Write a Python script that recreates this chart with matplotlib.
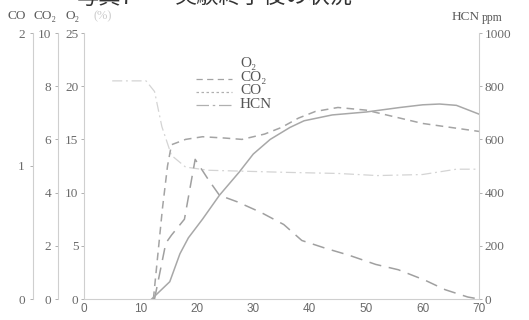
import matplotlib
matplotlib.use("Agg")
import matplotlib.pyplot as plt
from matplotlib.lines import Line2D

# Elapsed time (min) and measured gas concentrations
time_o2 = [5.0, 11.0, 12.5, 13.8, 15.5, 18.0, 22.0, 36.0, 45.0, 52.0, 60.0, 66.0, 70.0]
o2_pct = [20.5, 20.5, 19.5, 16.2, 13.5, 12.4, 12.1, 11.9, 11.8, 11.6, 11.7, 12.2, 12.2]

time_co2 = [12.3, 13.9, 14.8, 15.5, 18.0, 21.0, 25.0, 28.0, 32.0, 35.0, 38.0,
            41.0, 45.0, 50.0, 55.0, 60.0, 65.0, 70.0]
co2_pct = [0.0, 3.4, 5.0, 5.8, 6.0, 6.1, 6.05, 6.0, 6.2, 6.45, 6.8,
           7.05, 7.2, 7.1, 6.85, 6.6, 6.45, 6.3]

time_co = [12.5, 14.5, 15.5, 17.8, 19.7, 22.0, 24.0, 27.2, 31.4, 35.4, 38.6,
           42.9, 46.9, 51.7, 55.7, 60.5, 64.0, 68.0, 70.0]
co_pct = [0.0, 0.42, 0.48, 0.6, 1.05, 0.9, 0.78, 0.73, 0.65, 0.56, 0.44,
          0.38, 0.33, 0.26, 0.22, 0.14, 0.07, 0.015, 0.0]

time_hcn = [12.0, 15.2, 17.0, 18.5, 21.0, 24.0, 27.5, 30.0, 33.0, 36.5, 39.0,
            44.0, 50.0, 56.0, 60.0, 63.0, 66.0, 70.0]
hcn_ppm = [0, 65, 170, 230, 300, 390, 477, 545, 600, 645, 670,
           692, 703, 720, 730, 733, 728, 695]

x_ticks = [0, 10, 20, 30, 40, 50, 60, 70]
co_ticks = [0, 1, 2]
co2_ticks = [0, 2, 4, 6, 8, 10]
o2_ticks = [0, 5, 10, 15, 20, 25]
hcn_ticks = [0, 200, 400, 600, 800, 1000]

W_PX, H_PX = 529, 320
SERIF = ["Liberation Serif", "DejaVu Serif"]
SANS = ["Liberation Sans", "DejaVu Sans"]
TICK_C = "#6a6a6a"
SPINE_C = "#cfcfcf"
LINE_C = "#a4a4a4"

fig = plt.figure(figsize=(W_PX / 100, H_PX / 100), dpi=100)
fig.patch.set_facecolor("white")

left, right, bottom, top = 84, 479, 299, 33
ax = fig.add_axes([left / W_PX, 1 - bottom / H_PX,
                   (right - left) / W_PX, (bottom - top) / H_PX])
ax.set_xlim(0, 70)
ax.set_ylim(0, 25)
ax.patch.set_alpha(0)

ax_co2 = ax.twinx()
ax_co = ax.twinx()
ax_hcn = ax.twinx()
ax_co2.set_ylim(0, 10)
ax_co.set_ylim(0, 2)
ax_hcn.set_ylim(0, 1000)

span = right - left
for a, ticks, pos, pad in [(ax, o2_ticks, 0.0, 1.5),
                           (ax_co2, co2_ticks, (58 - left) / span, 2.5),
                           (ax_co, co_ticks, (33 - left) / span, 3.5)]:
    for s in ["top", "right", "bottom"]:
        a.spines[s].set_visible(False)
    a.spines["left"].set_visible(True)
    a.spines["left"].set_position(("axes", pos))
    a.spines["left"].set_color(SPINE_C)
    a.spines["left"].set_linewidth(0.8)
    a.yaxis.set_ticks_position("left")
    a.yaxis.set_label_position("left")
    a.set_yticks(ticks)
    a.tick_params(axis="y", direction="out", length=2.5, width=0.7,
                  color="#b0b0b0", pad=pad, labelsize=9.5, labelcolor=TICK_C)
    for lab in a.get_yticklabels():
        lab.set_fontfamily(SERIF)

for s in ["top", "left", "bottom"]:
    ax_hcn.spines[s].set_visible(False)
ax_hcn.spines["right"].set_color(SPINE_C)
ax_hcn.spines["right"].set_linewidth(0.8)
ax_hcn.set_yticks(hcn_ticks)
ax_hcn.tick_params(axis="y", direction="out", length=2.5, width=0.7,
                   color="#b0b0b0", pad=1.5, labelsize=9.5, labelcolor=TICK_C)
for lab in ax_hcn.get_yticklabels():
    lab.set_fontfamily(SERIF)

ax.spines["bottom"].set_visible(True)
ax.spines["bottom"].set_color(SPINE_C)
ax.spines["bottom"].set_linewidth(0.8)
ax.set_xticks(x_ticks)
ax.tick_params(axis="x", length=0, pad=3, labelsize=8.5, labelcolor=TICK_C)
for lab in ax.get_xticklabels():
    lab.set_fontfamily(SANS)

# Gas concentration curves
ax.plot(time_o2, o2_pct, color="#d4d4d4", lw=0.9, linestyle=(0, (8, 3, 1.5, 3)))
ax_co2.plot(time_co2, co2_pct, color=LINE_C, lw=1.1, linestyle=(0, (5, 3.5)))
ax_co.plot(time_co, co_pct, color="#a0a0a0", lw=1.1, linestyle=(0, (8, 5)))
ax_hcn.plot(time_hcn, hcn_ppm, color="#a8a8a8", lw=1.1)

# Legend
def fx(px):
    return px / W_PX

def fy(py):
    return 1 - py / H_PX

legend_rows = [("O₂", 64, None, "#d6d6d6"),
               ("CO₂", 78, (0, (5, 3.5)), LINE_C),
               ("CO", 91, (0, (2, 2)), "#b0b0b0"),
               ("HCN", 104, (0, (10, 3, 2, 3)), "#b0b0b0")]
for label, ypx, ls, col in legend_rows:
    fig.text(fx(240), fy(ypx), label, family=SERIF, fontsize=11,
             color="#555555", va="center", ha="left")
    if ls is not None:
        fig.add_artist(Line2D([fx(196), fx(232)], [fy(ypx + 1), fy(ypx + 1)],
                              transform=fig.transFigure, color=col, lw=0.9,
                              linestyle=ls))

# Axis titles
fig.text(fx(8), fy(16), "CO", family=SERIF, fontsize=9.5, color="#5a5a5a",
         va="center", ha="left")
fig.text(fx(34), fy(16), "CO₂", family=SERIF, fontsize=9.5, color="#5a5a5a",
         va="center", ha="left")
fig.text(fx(66), fy(16), "O₂", family=SERIF, fontsize=9.5, color="#5a5a5a",
         va="center", ha="left")
fig.text(fx(93), fy(16), "(%)", family=SERIF, fontsize=9, color="#cccccc",
         va="center", ha="left")
fig.text(fx(452), fy(17), "HCN", family=SERIF, fontsize=9.5, color="#5a5a5a",
         va="center", ha="left")
fig.text(fx(482), fy(18), "ppm", family=SERIF, fontsize=8.5, color="#5a5a5a",
         va="center", ha="left")

# Caption of the preceding photograph, cut at the page edge
fig.text(fx(134), fy(4), "写真7", family=["Noto Sans CJK JP"], fontsize=16,
         color="#333333", va="baseline", ha="right")
fig.text(fx(175), fy(4), "実験終了後の状況", family=["Noto Sans CJK JP"],
         fontsize=16, color="#333333", va="baseline", ha="left")

fig.savefig("out.png", dpi=100, facecolor="white")
